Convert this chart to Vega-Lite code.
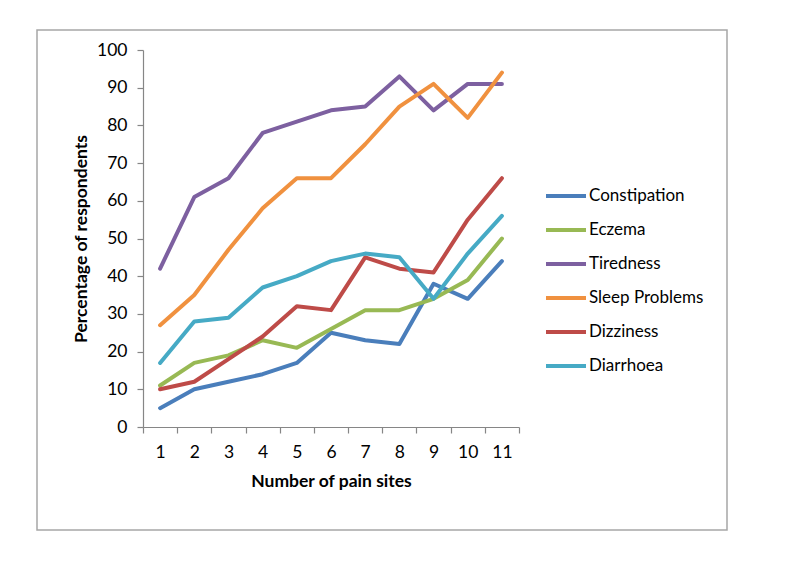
{
  "$schema": "https://vega.github.io/schema/vega-lite/v6.json",
  "width": 690,
  "height": 500,
  "autosize": {"type": "none"},
  "padding": {"left": 37, "top": 30, "right": 58, "bottom": 40},
  "background": "white",
  "config": {
    "font": "Lato",
    "view": {"stroke": "#A6A6A6", "strokeWidth": 1.5},
    "axis": {"grid": false, "domainColor": "#868686", "tickColor": "#868686", "domainWidth": 1.2, "tickWidth": 1.2, "labelColor": "#000000", "titleColor": "#000000", "labelFont": "Lato", "titleFont": "Lato", "labelFontSize": 17.5, "titleFontSize": 17.5, "titleFontWeight": "bold", "tickSize": 6}
  },
  "data": {"values": [
    {"n": 1, "series": "Constipation", "value": 5},
    {"n": 2, "series": "Constipation", "value": 10},
    {"n": 3, "series": "Constipation", "value": 12},
    {"n": 4, "series": "Constipation", "value": 14},
    {"n": 5, "series": "Constipation", "value": 17},
    {"n": 6, "series": "Constipation", "value": 25},
    {"n": 7, "series": "Constipation", "value": 23},
    {"n": 8, "series": "Constipation", "value": 22},
    {"n": 9, "series": "Constipation", "value": 38},
    {"n": 10, "series": "Constipation", "value": 34},
    {"n": 11, "series": "Constipation", "value": 44},
    {"n": 1, "series": "Eczema", "value": 11},
    {"n": 2, "series": "Eczema", "value": 17},
    {"n": 3, "series": "Eczema", "value": 19},
    {"n": 4, "series": "Eczema", "value": 23},
    {"n": 5, "series": "Eczema", "value": 21},
    {"n": 6, "series": "Eczema", "value": 26},
    {"n": 7, "series": "Eczema", "value": 31},
    {"n": 8, "series": "Eczema", "value": 31},
    {"n": 9, "series": "Eczema", "value": 34},
    {"n": 10, "series": "Eczema", "value": 39},
    {"n": 11, "series": "Eczema", "value": 50},
    {"n": 1, "series": "Tiredness", "value": 42},
    {"n": 2, "series": "Tiredness", "value": 61},
    {"n": 3, "series": "Tiredness", "value": 66},
    {"n": 4, "series": "Tiredness", "value": 78},
    {"n": 5, "series": "Tiredness", "value": 81},
    {"n": 6, "series": "Tiredness", "value": 84},
    {"n": 7, "series": "Tiredness", "value": 85},
    {"n": 8, "series": "Tiredness", "value": 93},
    {"n": 9, "series": "Tiredness", "value": 84},
    {"n": 10, "series": "Tiredness", "value": 91},
    {"n": 11, "series": "Tiredness", "value": 91},
    {"n": 1, "series": "Sleep Problems", "value": 27},
    {"n": 2, "series": "Sleep Problems", "value": 35},
    {"n": 3, "series": "Sleep Problems", "value": 47},
    {"n": 4, "series": "Sleep Problems", "value": 58},
    {"n": 5, "series": "Sleep Problems", "value": 66},
    {"n": 6, "series": "Sleep Problems", "value": 66},
    {"n": 7, "series": "Sleep Problems", "value": 75},
    {"n": 8, "series": "Sleep Problems", "value": 85},
    {"n": 9, "series": "Sleep Problems", "value": 91},
    {"n": 10, "series": "Sleep Problems", "value": 82},
    {"n": 11, "series": "Sleep Problems", "value": 94},
    {"n": 1, "series": "Dizziness", "value": 10},
    {"n": 2, "series": "Dizziness", "value": 12},
    {"n": 3, "series": "Dizziness", "value": 18},
    {"n": 4, "series": "Dizziness", "value": 24},
    {"n": 5, "series": "Dizziness", "value": 32},
    {"n": 6, "series": "Dizziness", "value": 31},
    {"n": 7, "series": "Dizziness", "value": 45},
    {"n": 8, "series": "Dizziness", "value": 42},
    {"n": 9, "series": "Dizziness", "value": 41},
    {"n": 10, "series": "Dizziness", "value": 55},
    {"n": 11, "series": "Dizziness", "value": 66},
    {"n": 1, "series": "Diarrhoea", "value": 17},
    {"n": 2, "series": "Diarrhoea", "value": 28},
    {"n": 3, "series": "Diarrhoea", "value": 29},
    {"n": 4, "series": "Diarrhoea", "value": 37},
    {"n": 5, "series": "Diarrhoea", "value": 40},
    {"n": 6, "series": "Diarrhoea", "value": 44},
    {"n": 7, "series": "Diarrhoea", "value": 46},
    {"n": 8, "series": "Diarrhoea", "value": 45},
    {"n": 9, "series": "Diarrhoea", "value": 34},
    {"n": 10, "series": "Diarrhoea", "value": 46},
    {"n": 11, "series": "Diarrhoea", "value": 56}
  ]},
  "mark": {"type": "line", "strokeWidth": 4, "strokeJoin": "round", "strokeCap": "round"},
  "encoding": {
    "x": {
      "field": "n", "type": "ordinal", "bandPosition": 0.5,
      "scale": {"type": "band", "range": [106, 482], "paddingInner": 0, "paddingOuter": 0},
      "axis": {"title": "Number of pain sites", "labelAngle": 0, "tickBand": "extent", "offset": -103, "labelPadding": 10, "titlePadding": 12}
    },
    "y": {
      "field": "value", "type": "quantitative",
      "scale": {"domain": [0, 100], "range": [397, 20], "nice": false},
      "axis": {"title": "Percentage of respondents", "values": [0, 10, 20, 30, 40, 50, 60, 70, 80, 90, 100], "offset": -106, "labelPadding": 10, "titlePadding": 6}
    },
    "color": {
      "field": "series", "type": "nominal",
      "scale": {
        "domain": ["Constipation", "Eczema", "Tiredness", "Sleep Problems", "Dizziness", "Diarrhoea"],
        "range": ["#4A7EBB", "#98B954", "#7D60A0", "#F0913F", "#BE4B48", "#46AAC5"]
      },
      "legend": {
        "title": null, "orient": "none", "legendX": 507, "legendY": 144,
        "symbolType": "stroke", "symbolSize": 1600, "symbolStrokeWidth": 4,
        "labelFont": "Lato", "labelFontSize": 17, "labelColor": "#000000", "labelOffset": 1, "rowPadding": 4
      }
    }
  }
}
